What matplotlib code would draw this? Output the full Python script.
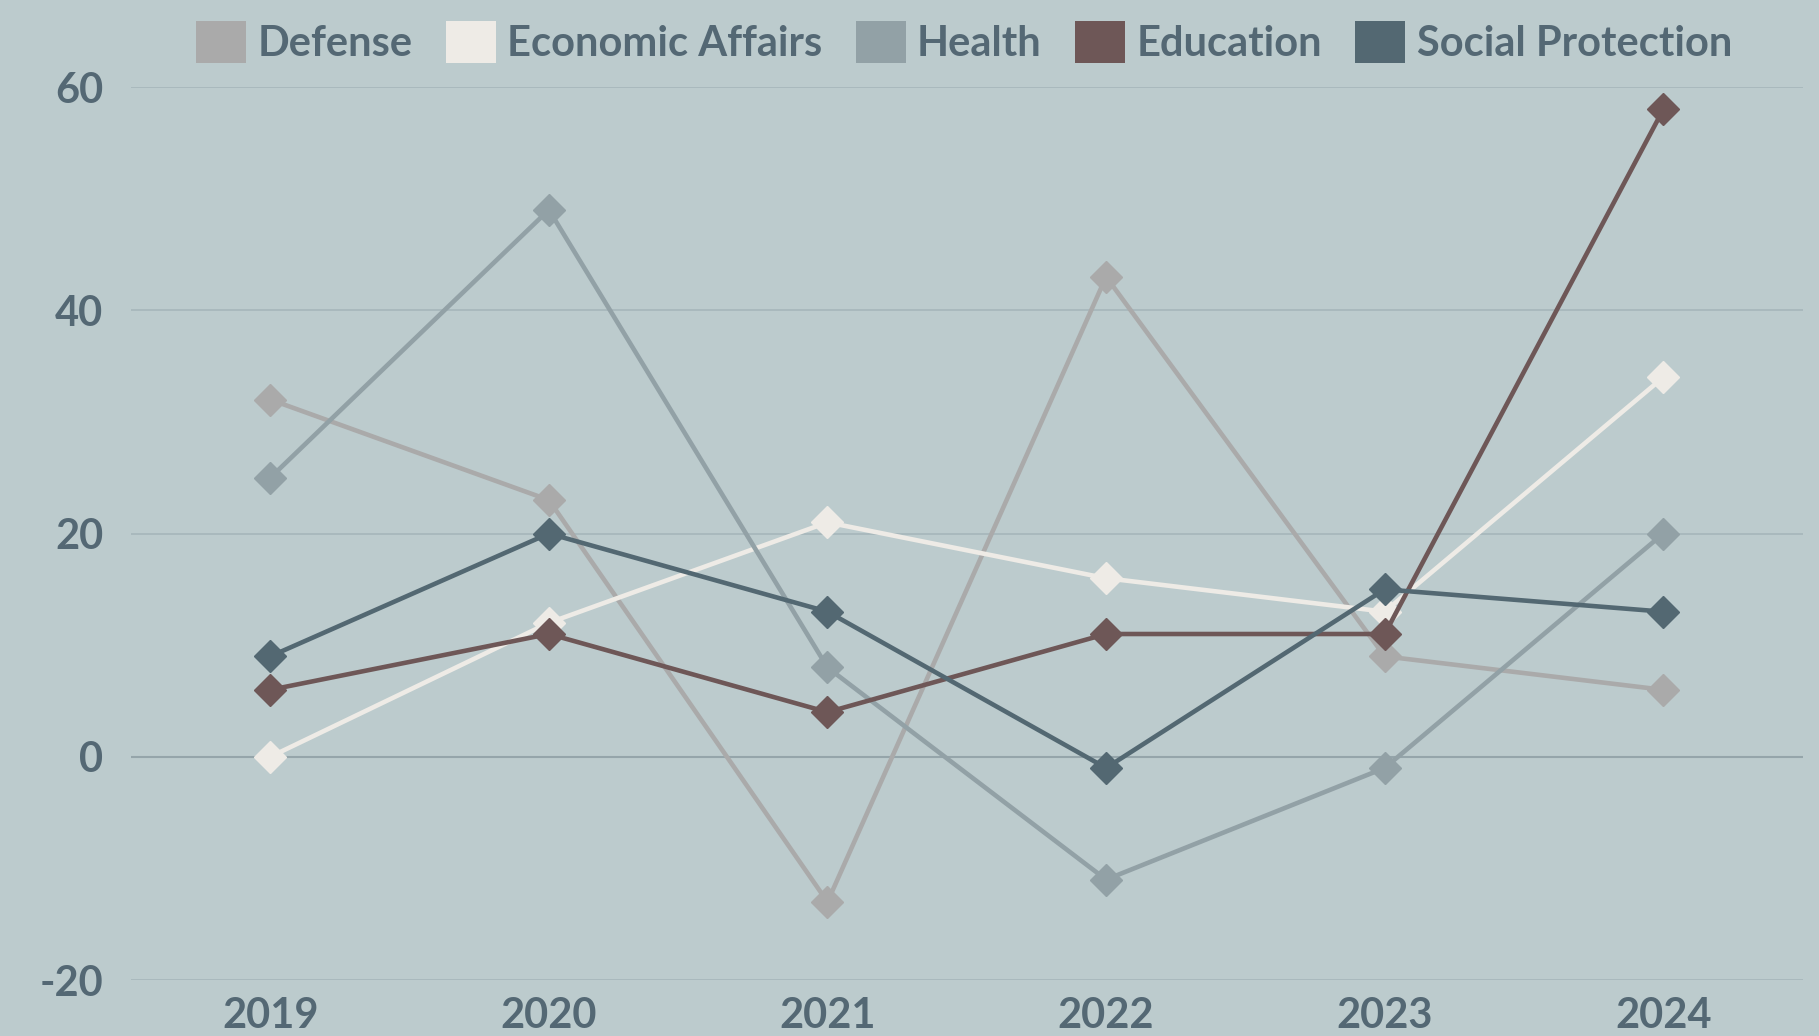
import matplotlib
matplotlib.use("Agg")
import matplotlib.pyplot as plt
from matplotlib.patches import Patch

years = ["2019", "2020", "2021", "2022", "2023", "2024"]
defense = [32, 23, -13, 43, 9, 6]
economic_affairs = [0, 12, 21, 16, 13, 34]
health = [25, 49, 8, -11, -1, 20]
education = [6, 11, 4, 11, 11, 58]
social_protection = [9, 20, 13, -1, 15, 13]

series = [
    ("Defense", defense, "#aaaaaa"),
    ("Economic Affairs", economic_affairs, "#eeebe6"),
    ("Health", health, "#92a1a6"),
    ("Education", education, "#6e5757"),
    ("Social Protection", social_protection, "#536872"),
]
yticks = [-20, 0, 20, 40, 60]

BG = "#bccbcd"
TXT = "#546874"
plt.rcParams['font.family'] = ['Lato', 'DejaVu Sans']

fig = plt.figure(figsize=(18.19, 10.36), dpi=100, facecolor=BG)
ax = fig.add_axes([0.072, 0.054, 0.919, 0.862], facecolor=BG)

x = list(range(len(years)))
for name, vals, col in series:
    ax.plot(x, vals, color=col, lw=3.3, marker="D", ms=16.5, mec=col, mfc=col, zorder=3)

ax.set_xlim(-0.5, len(years) - 0.5)
ax.set_ylim(-20, 60)
ax.set_yticks(yticks)
ax.set_yticklabels([str(v) for v in yticks])
ax.set_xticks(x)
ax.set_xticklabels(years)
for v in yticks:
    ax.axhline(v, color="#95a5aa" if v == 0 else "#a6b6ba", lw=1.5 if v == 0 else 1.2, zorder=1)
for s in ax.spines.values():
    s.set_visible(False)
ax.tick_params(length=0, labelsize=30, labelcolor=TXT)
ax.tick_params(axis="y", pad=20)
ax.tick_params(axis="x", pad=12)
for lab in ax.get_xticklabels() + ax.get_yticklabels():
    lab.set_fontweight("bold")

handles = [Patch(facecolor=c, edgecolor="none", label=n) for n, _, c in series]
leg = fig.legend(handles=handles, loc="center", bbox_to_anchor=(0.53, 1 - 42 / 1036),
                 ncol=5, frameon=False, fontsize=30, handlelength=1.2, handleheight=1.2,
                 handletextpad=0.27, columnspacing=0.8, borderaxespad=0)
for t in leg.get_texts():
    t.set_color(TXT)
    t.set_fontweight("bold")

fig.savefig("out.png", dpi=100, facecolor=BG)
